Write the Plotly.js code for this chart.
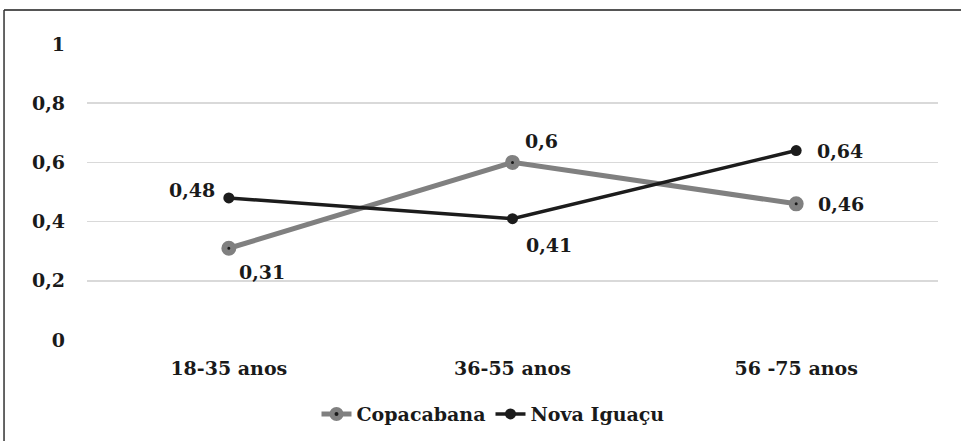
<!DOCTYPE html>
<html>
<head>
<meta charset="utf-8">
<script src="https://cdn.plot.ly/plotly-3.0.1.min.js"></script>
<style>html,body{margin:0;padding:0;background:#fff;}#chart{width:961px;height:441px;}</style>
</head>
<body>
<div id="chart"></div>
<script>
const categories = ["18-35 anos", "36-55 anos", "56 -75 anos"];
const copacabana = [0.31, 0.6, 0.46];
const novaIguacu = [0.48, 0.41, 0.64];
const seriesNames = ["Copacabana", "Nova Iguaçu"];
const yTickVals = [0, 0.2, 0.4, 0.6, 0.8, 1];
const yTickText = ["0", "0,2", "0,4", "0,6", "0,8", "1"];
const copaLabelOffsets = [[33, -24], [29, 21], [45, 0]];
const novaLabelOffsets = [[-37, 8], [36, -26], [44, 0]];

const FAMILY = "'DejaVu Serif'";
const FS = 19;
const fmt = v => String(v).replace('.', ',');
const labelFont = {family: FAMILY, size: FS, color: "#1a1a1a", weight: "bold"};

const traces = [
  {
    x: categories, y: copacabana, name: seriesNames[0], type: "scatter", mode: "lines+markers",
    line: {color: "#808080", width: 5},
    marker: {symbol: "circle", size: 9, color: "#1a1a1a", line: {color: "#808080", width: 6}},
    cliponaxis: false
  },
  {
    x: categories, y: novaIguacu, name: seriesNames[1], type: "scatter", mode: "lines+markers",
    line: {color: "#1c1c1c", width: 3.5},
    marker: {symbol: "circle", size: 11, color: "#1c1c1c"},
    cliponaxis: false
  }
];

const annotations = [];
categories.forEach((c, i) => {
  annotations.push({x: c, y: copacabana[i], xref: "x", yref: "y", text: fmt(copacabana[i]),
    showarrow: false, xshift: copaLabelOffsets[i][0], yshift: copaLabelOffsets[i][1], font: labelFont});
  annotations.push({x: c, y: novaIguacu[i], xref: "x", yref: "y", text: fmt(novaIguacu[i]),
    showarrow: false, xshift: novaLabelOffsets[i][0], yshift: novaLabelOffsets[i][1], font: labelFont});
});

const layout = {
  width: 961, height: 441,
  margin: {l: 87, r: 23, t: 44, b: 101},
  paper_bgcolor: "#ffffff", plot_bgcolor: "#ffffff",
  font: {family: FAMILY, size: FS, color: "#1a1a1a", weight: "bold"},
  xaxis: {
    type: "category", range: [-0.5, 2.5], showgrid: false, zeroline: false, showline: false,
    ticks: "", ticklabelstandoff: 15,
    tickfont: {family: FAMILY, size: FS, color: "#1a1a1a", weight: "bold"}
  },
  yaxis: {
    range: [0, 1], tickvals: yTickVals, ticktext: yTickText, showgrid: true, gridcolor: "#d9d9d9", gridwidth: 1.5,
    zeroline: false, showline: false, ticks: "", ticklabelstandoff: 21,
    tickfont: {family: FAMILY, size: FS, color: "#1a1a1a", weight: "bold"}
  },
  showlegend: true,
  legend: {
    orientation: "h", xref: "container", yref: "container", x: 0.513, xanchor: "center", y: 0.061, yanchor: "middle",
    font: {family: FAMILY, size: FS, color: "#1a1a1a", weight: "bold"},
    itemwidth: 30, tracegroupgap: 0
  },
  annotations: annotations,
  shapes: [
    {type: "line", xref: "paper", yref: "paper", x0: -0.0975, x1: 1.03, y0: 1.1149, y1: 1.1149, line: {color: "#555555", width: 2}},
    {type: "line", xref: "paper", yref: "paper", x0: -0.0975, x1: -0.0975, y0: 1.1149, y1: -0.35, line: {color: "#333333", width: 1.5}}
  ]
};

Plotly.newPlot("chart", traces, layout, {displayModeBar: false, staticPlot: true});
</script>
</body>
</html>
